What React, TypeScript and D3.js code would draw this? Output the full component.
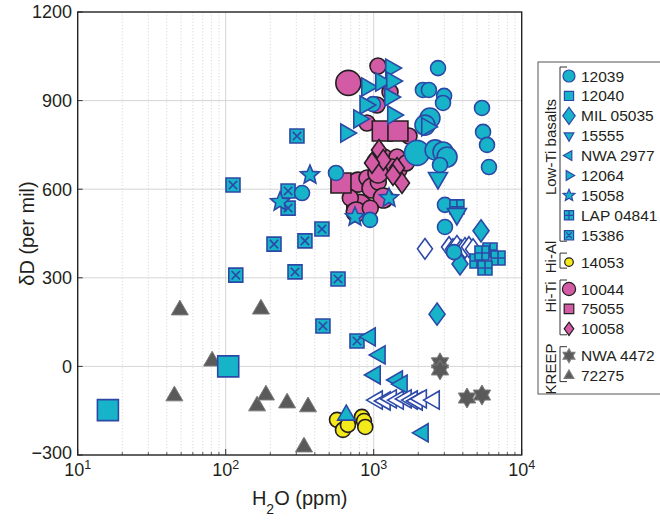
import React from "react";
import * as d3 from "d3";

// [H2O ppm, dD per mil, size class]
const s12039 = [
  [2720, 1010, 0], [2150, 936, 0], [2360, 936, 0], [2990, 916, 0], [2940, 892, 0],
  [5390, 875, 0], [989, 888, 0], [2400, 841, 1], [2220, 817, 1], [5480, 794, 0],
  [5830, 750, 0], [6010, 675, 0], [1960, 723, 2], [2600, 733, 1], [2940, 726, 1],
  [3130, 709, 1], [2805, 682, 0], [556, 655, 0], [328, 587, 0], [944, 496, 0],
  [3030, 547, 0], [3030, 472, 0], [3490, 387, 0],
];
const s12040 = [[16, -148], [104, 0]];
const sMIL = [[5310, 459], [3830, 347], [2680, 177]];
const sMILopen = [
  [2220, 398], [3230, 404], [3430, 397], [3650, 408], [3890, 394], [4140, 401], [4400, 404], [4690, 397],
];
const s15555 = [[2720, 638], [3650, 516]];
const sNWA2977 = [[944, 100], [1100, 39], [1020, -29], [1440, -46], [1550, -60], [2150, -225]];
const sNWA2977open = [
  [1053, -114], [1190, -117], [1310, -110], [1460, -114], [1650, -110], [1815, -114],
  [1960, -117], [2090, -110], [2555, -114],
];
const s12064 = [
  [1309, 1010], [901, 946], [1120, 963], [1329, 966], [877, 885], [1289, 912],
  [796, 838], [1350, 851], [650, 790], [2292, 811],
];
const s15058 = [[233, 557], [371, 648], [747, 506], [1269, 570]];
const sLAP = [[3650, 540], [6107, 394], [6918, 367], [4989, 357], [5649, 333], [5390, 384]];
const s15386 = [
  [112, 614], [303, 780], [264, 594], [264, 536], [212, 414], [447, 465],
  [343, 425], [117, 309], [294, 320], [574, 296], [454, 137], [771, 86],
];
const sLowTiOther = [[653, -165]];
const s14053 = [[565, -181], [620, -215], [670, -198], [833, -171], [860, -185], [877, -205]];
const s10044 = [
  [1069, 1017, 0], [674, 960, 2], [1289, 929, 0], [1053, 885, 0], [901, 824, 0],
  [1732, 780, 0], [783, 624, 1], [901, 638, 0], [974, 604, 1], [1074, 624, 0],
  [799, 540, 2], [1053, 692, 1], [1179, 709, 0], [1437, 709, 0], [1192, 672, 1],
  [1329, 675, 0], [1069, 655, 1], [1481, 665, 0], [1661, 689, 0], [1161, 570, 1],
  [695, 570, 0], [763, 523, 1], [948, 536, 0],
];
const s75055 = [[1143, 797], [1458, 797], [601, 621]];
const s10058 = [[1086, 733], [1161, 699], [1437, 672], [1553, 621], [1350, 648], [974, 689]];
const sNWA4472 = [[2805, 12], [2805, -12], [4270, -107], [5390, -97]];
const s72275 = [
  [49, 191], [173, 194], [45, -100], [81, 18], [163, -134], [187, -97],
  [260, -124], [360, -137], [338, -273],
];

const yTicks = [-300, 0, 300, 600, 900, 1200];
const xDecades = [1, 2, 3, 4];

const W = 660;
const H = 520;
const M = { left: 77.7, right: 521.7, top: 12, bottom: 455 };

const x = d3.scaleLog().domain([10, 10000]).range([M.left, M.right]);
const y = d3.scaleLinear().domain([-300, 1200]).range([M.bottom, M.top]);

const CYAN = "#17b4c9";
const BLUE = "#2c48a7";
const PINK = "#d35aa5";
const INK = "#231f20";
const YELLOW = "#f3e91b";
const GREY = "#5a5a5a";
const FONT = "'Liberation Sans', Arial, Helvetica, sans-serif";

function poly(pts: number[][]) {
  return "M" + pts.map(p => p[0].toFixed(2) + "," + p[1].toFixed(2)).join("L") + "Z";
}
function tri(R: number, deg: number) {
  return poly([0, 120, 240].map(a => {
    const t = ((deg + a) * Math.PI) / 180;
    return [R * Math.cos(t), R * Math.sin(t)];
  }));
}
function star(n: number, R: number, r: number) {
  const pts: number[][] = [];
  for (let i = 0; i < 2 * n; i++) {
    const t = -Math.PI / 2 + (i * Math.PI) / n;
    const rr = i % 2 === 0 ? R : r;
    pts.push([rr * Math.cos(t), rr * Math.sin(t)]);
  }
  return poly(pts);
}
function shapePath(shape: string, s: number): string {
  switch (shape) {
    case "circle":
      return `M${-s},0A${s},${s} 0 1,0 ${s},0A${s},${s} 0 1,0 ${-s},0Z`;
    case "square":
      return `M${-s},${-s}H${s}V${s}H${-s}Z`;
    case "squareX": {
      const i = s * 0.6;
      return `M${-s},${-s}H${s}V${s}H${-s}Z M${-i},${-i}L${i},${i}M${i},${-i}L${-i},${i}`;
    }
    case "squareGrid":
      return `M${-s},${-s}H${s}V${s}H${-s}Z M${-s},0H${s}M0,${-s}V${s}`;
    case "diamond":
      return `M0,${-s * 1.38}L${s},0L0,${s * 1.38}L${-s},0Z`;
    case "triUp":
      return tri(s, -90);
    case "triDown":
      return tri(s, 90);
    case "triLeft":
      return tri(s, 180);
    case "triRight":
      return tri(s, 0);
    case "star5":
      return star(5, s, s * 0.45);
    case "star6":
      return star(6, s, s * 0.58);
  }
  return "";
}

type Series = {
  key: string;
  data: number[][];
  shape: string;
  fill: string;
  stroke: string;
  size: number;
  sw?: number;
};

const cyanRadius = d3.scaleOrdinal<number, number>().domain([0, 1, 2]).range([7.5, 10, 12.5]);
const pinkRadius = d3.scaleOrdinal<number, number>().domain([0, 1, 2]).range([8, 10, 12.5]);

// drawing order (bottom to top)
const series: Series[] = [
  { key: "72275", data: s72275, shape: "triUp", fill: GREY, stroke: "#7a7a7a", size: 9.8, sw: 1 },
  { key: "NWA 4472", data: sNWA4472, shape: "star6", fill: GREY, stroke: "#7a7a7a", size: 10, sw: 1 },
  { key: "10044", data: s10044, shape: "circle", fill: PINK, stroke: INK, size: 8 },
  { key: "75055", data: s75055, shape: "square", fill: PINK, stroke: INK, size: 10 },
  { key: "10058", data: s10058, shape: "diamond", fill: PINK, stroke: INK, size: 7.5 },
  { key: "14053", data: s14053, shape: "circle", fill: YELLOW, stroke: INK, size: 7.5 },
  { key: "12040", data: s12040, shape: "square", fill: CYAN, stroke: BLUE, size: 10.5 },
  { key: "15386", data: s15386, shape: "squareX", fill: CYAN, stroke: BLUE, size: 7 },
  { key: "MILopen", data: sMILopen, shape: "diamond", fill: "#ffffff", stroke: BLUE, size: 7.5 },
  { key: "MIL 05035", data: sMIL, shape: "diamond", fill: CYAN, stroke: BLUE, size: 8 },
  { key: "12039", data: s12039, shape: "circle", fill: CYAN, stroke: BLUE, size: 7.5 },
  { key: "LAP 04841", data: sLAP, shape: "squareGrid", fill: CYAN, stroke: BLUE, size: 7 },
  { key: "15555", data: s15555, shape: "triDown", fill: CYAN, stroke: BLUE, size: 11 },
  { key: "NWA 2977", data: sNWA2977, shape: "triLeft", fill: CYAN, stroke: BLUE, size: 10.5 },
  { key: "NWAopen", data: sNWA2977open, shape: "triLeft", fill: "#ffffff", stroke: BLUE, size: 10.5 },
  { key: "lowTiOther", data: sLowTiOther, shape: "triUp", fill: CYAN, stroke: BLUE, size: 10 },
  { key: "12064", data: s12064, shape: "triRight", fill: CYAN, stroke: BLUE, size: 10.5 },
  { key: "15058", data: s15058, shape: "star5", fill: CYAN, stroke: BLUE, size: 10 },
];

const legend = [
  { label: "12039", shape: "circle", fill: CYAN, stroke: BLUE, size: 6, g: 0 },
  { label: "12040", shape: "square", fill: CYAN, stroke: BLUE, size: 4.6, g: 0 },
  { label: "MIL 05035", shape: "diamond", fill: CYAN, stroke: BLUE, size: 6.2, g: 0 },
  { label: "15555", shape: "triDown", fill: CYAN, stroke: BLUE, size: 5.6, g: 0 },
  { label: "NWA 2977", shape: "triLeft", fill: CYAN, stroke: BLUE, size: 5.6, g: 0 },
  { label: "12064", shape: "triRight", fill: CYAN, stroke: BLUE, size: 5.6, g: 0 },
  { label: "15058", shape: "star5", fill: CYAN, stroke: BLUE, size: 6.2, g: 0 },
  { label: "LAP 04841", shape: "squareGrid", fill: CYAN, stroke: BLUE, size: 4.6, g: 0 },
  { label: "15386", shape: "squareX", fill: CYAN, stroke: BLUE, size: 4.6, g: 0 },
  { label: "14053", shape: "circle", fill: YELLOW, stroke: INK, size: 4.3, g: 1 },
  { label: "10044", shape: "circle", fill: PINK, stroke: INK, size: 6.6, g: 2 },
  { label: "75055", shape: "square", fill: PINK, stroke: INK, size: 4.8, g: 2 },
  { label: "10058", shape: "diamond", fill: PINK, stroke: INK, size: 4.8, g: 2 },
  { label: "NWA 4472", shape: "star6", fill: GREY, stroke: "#7a7a7a", size: 6.8, g: 3 },
  { label: "72275", shape: "triUp", fill: GREY, stroke: "#7a7a7a", size: 5.6, g: 3 },
];
const groups = [
  { name: "Low-Ti basalts", first: 0, last: 8, cy: 147 },
  { name: "Hi-Al", first: 9, last: 9, cy: 257 },
  { name: "Hi-Ti", first: 10, last: 12, cy: 297 },
  { name: "KREEP", first: 13, last: 14, cy: 369 },
];
const legendY = (i: number) => 76 + i * 19.9 + legend[i].g * 7;

export default function App() {
  const minor = x.ticks().filter(v => Math.abs(Math.log10(v) - Math.round(Math.log10(v))) > 1e-6);
  return (
    <svg width={W} height={H} style={{ position: "absolute", left: 0, top: 0, background: "#fff" }} fontFamily={FONT}>
      {/* grid */}
      {minor.map(v => (
        <line key={"mg" + v} x1={x(v)} x2={x(v)} y1={M.top} y2={M.bottom} stroke="#cfcfcf" strokeWidth={0.8} strokeDasharray="1.2,2" />
      ))}
      {xDecades.slice(1, 3).map(d => (
        <line key={"xg" + d} x1={x(10 ** d)} x2={x(10 ** d)} y1={M.top} y2={M.bottom} stroke="#d6d6d6" strokeWidth={1} />
      ))}
      {yTicks.slice(1, -1).map(t => (
        <line key={"yg" + t} x1={M.left} x2={M.right} y1={y(t)} y2={y(t)} stroke="#d6d6d6" strokeWidth={1} />
      ))}

      {/* ticks */}
      {minor.map(v => (
        <line key={"mt" + v} x1={x(v)} x2={x(v)} y1={M.bottom} y2={M.bottom - 3} stroke="#333" strokeWidth={0.8} />
      ))}
      {xDecades.map(d => (
        <line key={"xt" + d} x1={x(10 ** d)} x2={x(10 ** d)} y1={M.bottom} y2={M.bottom - 6} stroke="#333" strokeWidth={1} />
      ))}
      {yTicks.map(t => (
        <line key={"yt" + t} x1={M.left} x2={M.left + 5} y1={y(t)} y2={y(t)} stroke="#333" strokeWidth={1} />
      ))}

      {/* markers */}
      {series.map(s => (
        <g key={s.key}>
          {s.data.map((d, i) => {
            const r = s.key === "12039" ? cyanRadius(d[2]) : s.key === "10044" ? pinkRadius(d[2]) : s.size;
            return (
              <path
                key={i}
                d={shapePath(s.shape, r)}
                transform={`translate(${x(d[0])},${y(d[1])})`}
                fill={s.fill}
                stroke={s.stroke}
                strokeWidth={s.sw ?? 1.6}
              />
            );
          })}
        </g>
      ))}

      {/* frame */}
      <rect x={M.left} y={M.top} width={M.right - M.left} height={M.bottom - M.top} fill="none" stroke="#222" strokeWidth={1.4} />

      {/* tick labels */}
      {yTicks.map(t => (
        <text key={"yl" + t} x={72} y={t === -300 ? y(t) - 2 : y(t)} dy="0.35em" textAnchor="end" fontSize={18} fill={INK}>
          {t < 0 ? "\u2212" + Math.abs(t) : t}
        </text>
      ))}
      {xDecades.map(d => (
        <text key={"xl" + d} x={x(10 ** d)} y={476} textAnchor="middle" fontSize={18} fill={INK}>
          10<tspan dy={-7} fontSize={12.5}>{d}</tspan>
        </text>
      ))}

      {/* axis titles */}
      <text x={(M.left + M.right) / 2} y={505} textAnchor="middle" fontSize={20} fill={INK}>
        H<tspan dy={9} fontSize={14}>2</tspan><tspan dy={-9}>O (ppm)</tspan>
      </text>
      <text transform={`translate(34,${(M.top + M.bottom) / 2}) rotate(-90)`} textAnchor="middle" fontSize={20} fill={INK}>
        δD (per mil)
      </text>

      {/* legend */}
      <rect x={538} y={62} width={130} height={332} fill="#fff" stroke="#555" strokeWidth={1} />
      {groups.map(g => {
        const y0 = legendY(g.first) - 9;
        const y1 = legendY(g.last) + 6;
        return (
          <g key={g.name}>
            <path d={`M567,${y0}H560V${y1}H567`} fill="none" stroke="#333" strokeWidth={1} />
            <text transform={`translate(556,${g.cy}) rotate(-90)`} textAnchor="middle" fontSize={15} fill={INK}>
              {g.name}
            </text>
          </g>
        );
      })}
      {legend.map((e, i) => (
        <g key={e.label} transform={`translate(0,${legendY(i)})`}>
          <path d={shapePath(e.shape, e.size)} transform="translate(569,0)" fill={e.fill} stroke={e.stroke} strokeWidth={1.2} />
          <text x={581} y={0} dy="0.36em" fontSize={15.5} fill={INK}>
            {e.label}
          </text>
        </g>
      ))}
    </svg>
  );
}
